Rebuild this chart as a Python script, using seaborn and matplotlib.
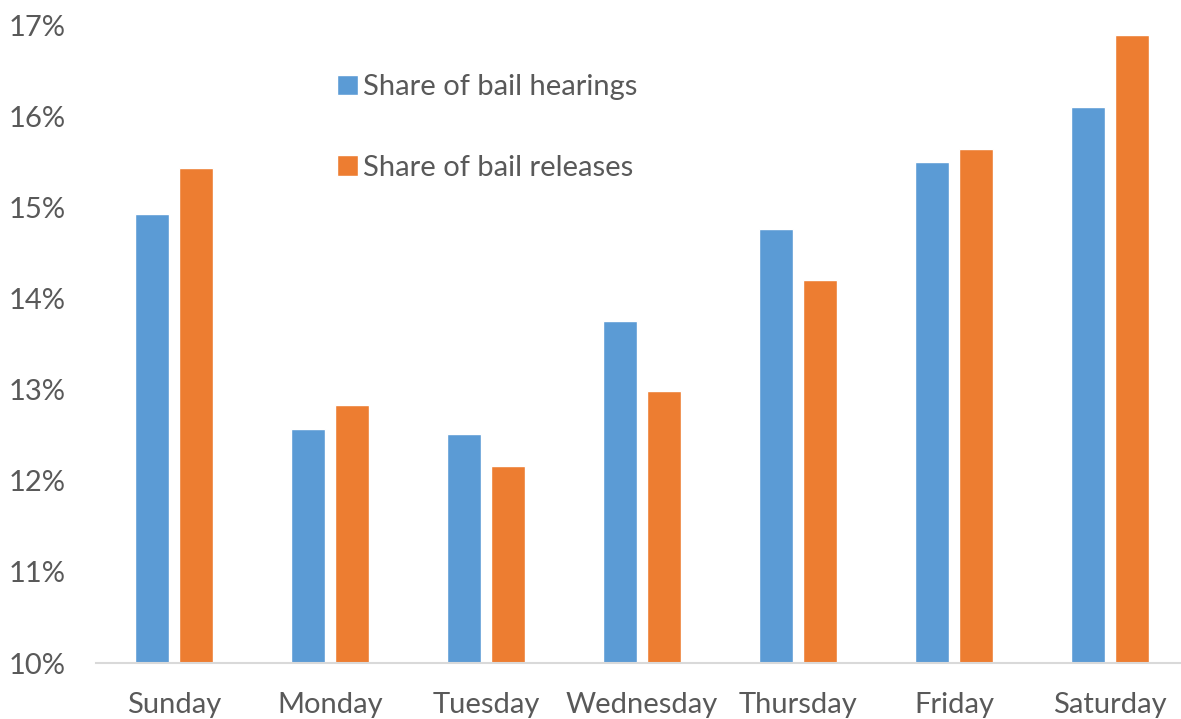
import matplotlib
matplotlib.use("Agg")
import matplotlib.pyplot as plt
import seaborn as sns
import pandas as pd

days = ["Sunday", "Monday", "Tuesday", "Wednesday", "Thursday", "Friday", "Saturday"]
hearings = [14.93, 12.57, 12.51, 13.75, 14.76, 15.50, 16.10]
releases = [15.43, 12.83, 12.16, 12.98, 14.20, 15.64, 16.89]
series_names = ["Share of bail hearings", "Share of bail releases"]
y_ticks = [10, 11, 12, 13, 14, 15, 16, 17]

df = pd.DataFrame({
    "day": days * 2,
    "share": hearings + releases,
    "series": [series_names[0]] * len(days) + [series_names[1]] * len(days),
})

sns.set_theme(style="white")
plt.rcParams["font.family"] = ["Lato", "DejaVu Sans"]
text_color = "#595959"

fig = plt.figure(figsize=(11.81, 7.19), dpi=100)
ax = fig.add_axes([96 / 1181, 1 - 663 / 719, (1181 - 96) / 1181, (663 - 25) / 719])

sns.barplot(
    data=df, x="day", y="share", hue="series", order=days, hue_order=series_names,
    palette=["#5B9BD5", "#ED7D31"], width=0.564, gap=0.227, saturation=1,
    ax=ax,
)

ax.set_ylim(10, 17)
ax.set_xlim(-0.5, 6.455)
ax.set_yticks(y_ticks)
ax.set_yticklabels([f"{t}%" for t in y_ticks])
ax.set_xlabel("")
ax.set_ylabel("")
ax.tick_params(axis="y", length=0, pad=22, labelsize=21, labelcolor=text_color)
ax.tick_params(axis="x", length=0, pad=21, labelsize=21, labelcolor=text_color)
for side in ["top", "right", "left"]:
    ax.spines[side].set_visible(False)
ax.spines["bottom"].set_color("#d9d9d9")
ax.spines["bottom"].set_linewidth(1.5)
ax.grid(False)

handles, labels = ax.get_legend_handles_labels()
leg = ax.legend(
    handles, labels, loc="upper left", bbox_to_anchor=(0.2115, 0.941),
    frameon=False, fontsize=21, handlelength=0.7, handleheight=0.7,
    handletextpad=0.2, labelspacing=1.86, borderaxespad=0,
)
for t in leg.get_texts():
    t.set_color(text_color)

fig.savefig("out.png", dpi=100)
